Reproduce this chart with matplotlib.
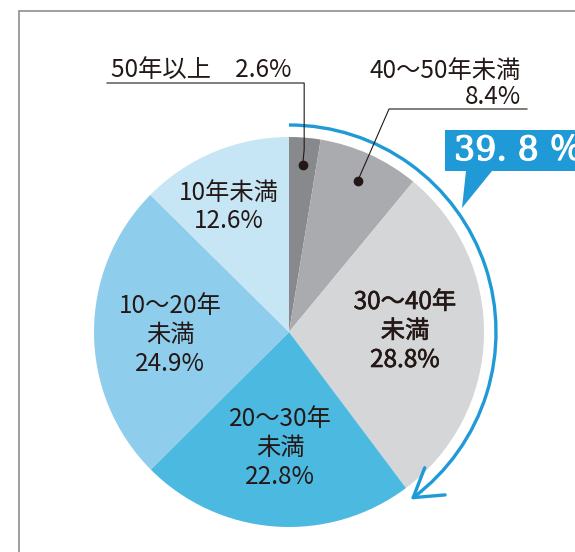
import numpy as np
import matplotlib
matplotlib.use("Agg")
import matplotlib.pyplot as plt
import matplotlib.patheffects as pe
from matplotlib.patches import Arc, Polygon, Rectangle

plt.rcParams['font.family'] = ['Noto Sans CJK JP', 'DejaVu Sans']

# shares by age of building, clockwise from 12 o'clock
labels = ["50年以上", "40～50年未満", "30～40年\n未満", "20～30年\n未満", "10～20年\n未満", "10年未満"]
shares = [2.6, 8.4, 28.8, 22.8, 24.9, 12.6]
colors = ["#88898c", "#aaabae", "#d5d6d8", "#4cb9e1", "#8ecdeb", "#c6e5f5"]
n_old = 3  # 30 years and older -> the highlighted arc

W, H = 575, 552
CX, CY, R = 289, H - 332, 195
INK = "#231815"
BLUE = "#1f9ad6"
FS = 17.5

fig = plt.figure(figsize=(W / 100, H / 100), dpi=100)
ax = fig.add_axes([0, 0, 1, 1])

ax.pie(shares, colors=colors, startangle=90, counterclock=False,
       center=(CX, CY), radius=R, wedgeprops=dict(linewidth=0))
ax.set_xlim(0, W)
ax.set_ylim(0, H)
ax.set_aspect("equal")
ax.axis("off")


def py(y):
    return H - y


# frame (open to the right / bottom)
ax.add_patch(Rectangle((19, -20), W + 40, py(11) + 20, fill=False,
                       edgecolor="#8e8e8e", linewidth=1.2))

# angles of slice boundaries (clockwise from top)
bounds = np.concatenate([[0], np.cumsum(shares)]) / sum(shares) * 360
mids = (bounds[:-1] + bounds[1:]) / 2


def polar(deg, r):
    a = np.radians(90 - deg)
    return CX + r * np.cos(a), CY + r * np.sin(a)


# labels inside the slices
inside = {2: (405, 331), 3: (280, 448), 4: (170, 335), 5: (229, 207)}
for i, (x, y) in inside.items():
    t = ax.text(x, py(y), f"{labels[i]}\n{shares[i]}%", ha="center", va="center",
                fontsize=FS, color=INK, linespacing=1.15)
    if i == 2:
        # the 30-40 label is set a little heavier
        t.set_path_effects([pe.withStroke(linewidth=0.45, foreground=INK)])

# leader labels for the two small slices
d0 = polar(mids[0], 0.86 * R)
d1 = polar(mids[1], 0.85 * R)
ax.plot(*d0, "o", color=INK, ms=6)
ax.plot(*d1, "o", color=INK, ms=6)
ax.plot([107, d0[0] + 1.5, d0[0] + 1.5, d0[0]], [py(83), py(83), py(150), d0[1]],
        color=INK, lw=0.8)
ax.plot([527, 389, d1[0]], [py(109), py(109), d1[1]], color=INK, lw=0.8)
ax.text(111, py(70), f"{labels[0]}\u3000{shares[0]}%", ha="left", va="center",
        fontsize=FS, color=INK)
ax.text(521, py(71), labels[1], ha="right", va="center", fontsize=FS, color=INK)
ax.text(521, py(97), f"{shares[1]}%", ha="right", va="center", fontsize=FS, color=INK)

# arc with arrow over the 30+ years slices
RA = 207
end = bounds[n_old]
ax.add_patch(Arc((CX, CY), 2 * RA, 2 * RA, theta1=90 - end, theta2=90,
                 color=BLUE, lw=2.4))
tip = np.array(polar(end, RA))
phi = np.radians(90 - end)
back = np.degrees(np.arctan2(np.cos(phi), -np.sin(phi)))
for da in (32, -32):
    a = np.radians(back + da)
    ax.plot([tip[0], tip[0] + 32 * np.cos(a)], [tip[1], tip[1] + 32 * np.sin(a)],
            color=BLUE, lw=2.4, solid_capstyle="round")

# callout
box = [(445, 130), (600, 130), (600, 171), (492, 171), (462, 208), (466, 171), (445, 171)]
ax.add_patch(Polygon([(x, py(y)) for x, y in box], closed=True, color=BLUE, lw=0))
total = f"{sum(shares[:n_old]):.1f}".replace(".", ". ")
ax.text(454, py(151), total + " ％", ha="left", va="center",
        fontsize=24, color="white", family=["DejaVu Serif", "Noto Sans CJK JP"],
        path_effects=[pe.withStroke(linewidth=0.9, foreground="white")])

fig.savefig("out.png", dpi=100)
